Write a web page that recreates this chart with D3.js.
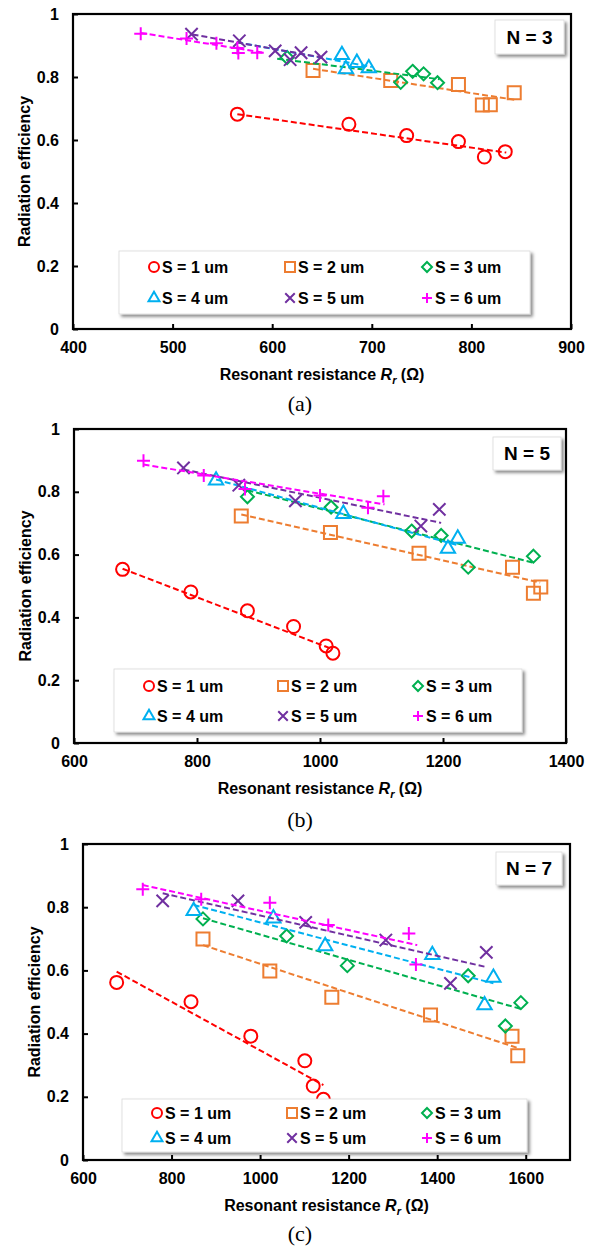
<!DOCTYPE html>
<html>
<head>
<meta charset="utf-8">
<script src="https://cdn.jsdelivr.net/npm/d3@7"></script>
<style>
  body { margin: 0; background: #fff; }
  text { font-family: "Liberation Sans", Arial, sans-serif; font-weight: bold; fill: #000; }
</style>
</head>
<body>
<svg id="chart" width="595" height="1247"></svg>
<script>
// series
var seriesLabels = ['S = 1 um', 'S = 2 um', 'S = 3 um', 'S = 4 um', 'S = 5 um', 'S = 6 um'];
var seriesColors = ['#FF0000', '#ED7D31', '#00B050', '#00B0F0', '#7030A0', '#FF00FF'];
var seriesShapes = ['circle', 'square', 'diamond', 'triangle', 'x', 'plus'];
var yTicks = [0, 0.2, 0.4, 0.6, 0.8, 1];

// N = 3  [Rr, efficiency]
var n3Data = [
  [[565, 0.682], [677, 0.650], [735, 0.614], [787, 0.595], [813, 0.546], [834, 0.563]],
  [[641, 0.821], [719, 0.789], [787, 0.776], [811, 0.711], [819, 0.712], [843, 0.750]],
  [[615, 0.862], [729, 0.783], [741, 0.818], [752, 0.810], [766, 0.782]],
  [[670, 0.870], [674, 0.825], [685, 0.845], [697, 0.828]],
  [[519, 0.936], [567, 0.915], [603, 0.883], [618, 0.855], [629, 0.877], [649, 0.863]],
  [[468, 0.937], [514, 0.922], [544, 0.907], [565, 0.892], [566, 0.876], [585, 0.877]]
];
// linear fit ends [x0, y0, x1, y1]
var n3Fits = [
  [565, 0.682, 835, 0.560],
  [641, 0.826, 843, 0.728],
  [605, 0.858, 768, 0.793],
  [565, 0.910, 700, 0.832],
  [520, 0.935, 650, 0.862],
  [468, 0.940, 590, 0.878]
];
var n3Ticks = [400, 500, 600, 700, 800, 900];

// N = 5
var n5Data = [
  [[679, 0.553], [790, 0.481], [882, 0.421], [957, 0.371], [1010, 0.309], [1021, 0.286]],
  [[872, 0.723], [1017, 0.670], [1161, 0.604], [1313, 0.560], [1347, 0.477], [1359, 0.497]],
  [[882, 0.784], [1018, 0.751], [1149, 0.675], [1197, 0.661], [1241, 0.560], [1347, 0.595]],
  [[831, 0.836], [1038, 0.730], [1208, 0.619], [1224, 0.651]],
  [[778, 0.876], [868, 0.821], [960, 0.771], [1164, 0.691], [1194, 0.744]],
  [[713, 0.899], [811, 0.852], [878, 0.809], [1000, 0.788], [1078, 0.749], [1103, 0.786]]
];
var n5Fits = [
  [679, 0.555, 1020, 0.299],
  [872, 0.728, 1358, 0.511],
  [882, 0.805, 1347, 0.574],
  [831, 0.839, 1224, 0.630],
  [778, 0.871, 1197, 0.701],
  [713, 0.887, 1105, 0.760]
];
var n5Ticks = [600, 800, 1000, 1200, 1400];

// N = 7
var n7Data = [
  [[676, 0.562], [844, 0.501], [979, 0.392], [1101, 0.314], [1120, 0.234], [1143, 0.192]],
  [[871, 0.699], [1022, 0.598], [1162, 0.515], [1385, 0.459], [1569, 0.392], [1582, 0.330]],
  [[871, 0.763], [1060, 0.709], [1197, 0.615], [1470, 0.583], [1554, 0.424], [1589, 0.498]],
  [[850, 0.788], [1030, 0.765], [1147, 0.677], [1389, 0.649], [1507, 0.490], [1527, 0.577]],
  [[780, 0.820], [950, 0.820], [1103, 0.752], [1284, 0.696], [1430, 0.559], [1511, 0.657]],
  [[735, 0.857], [867, 0.825], [1022, 0.814], [1154, 0.744], [1336, 0.717], [1352, 0.619]]
];
var n7Fits = [
  [676, 0.596, 1143, 0.237],
  [871, 0.680, 1585, 0.353],
  [871, 0.765, 1589, 0.478],
  [850, 0.807, 1527, 0.559],
  [780, 0.844, 1513, 0.610],
  [735, 0.870, 1355, 0.680]
];
var n7Ticks = [600, 800, 1000, 1200, 1400, 1600];

var panels = [
  {tag: 'N = 3', caption: '(a)', data: n3Data, fits: n3Fits, domain: [400, 900], ticks: n3Ticks,
   frame: [73, 571, 14, 329], legend: [119, 530, 251, 314], rows: [267, 298], cols: [154, 290, 427],
   tagBox: [495, 564, 20, 54], capY: 411},
  {tag: 'N = 5', caption: '(b)', data: n5Data, fits: n5Fits, domain: [600, 1400], ticks: n5Ticks,
   frame: [74, 566, 429, 743], legend: [114, 522, 669, 732], rows: [686, 716], cols: [149, 283, 418],
   tagBox: [493, 561, 437, 470], capY: 827},
  {tag: 'N = 7', caption: '(c)', data: n7Data, fits: n7Fits, domain: [600, 1700], ticks: n7Ticks,
   frame: [83, 570, 844, 1160], legend: [122, 527, 1099, 1152], rows: [1113, 1138], cols: [157, 292, 427],
   tagBox: [496, 562, 852, 885], capY: 1241}
];

function shapePath(shape, s) {
  var h;
  if (shape == 'circle') {
    var p = d3.path();
    p.arc(0, 0, s, 0, 2 * Math.PI);
    return p.toString();
  } else if (shape == 'square') {
    return 'M' + (-s) + ',' + (-s) + 'h' + 2 * s + 'v' + 2 * s + 'h' + (-2 * s) + 'Z';
  } else if (shape == 'diamond') {
    return 'M0,' + (-s) + 'L' + s + ',0L0,' + s + 'L' + (-s) + ',0Z';
  } else if (shape == 'triangle') {
    h = s * 1.9;
    return 'M0,' + (-h * 2 / 3) + 'L' + (s * 1.1) + ',' + (h / 3) + 'L' + (-s * 1.1) + ',' + (h / 3) + 'Z';
  } else if (shape == 'x') {
    h = s * 0.95;
    return 'M' + (-h) + ',' + (-h) + 'L' + h + ',' + h + 'M' + h + ',' + (-h) + 'L' + (-h) + ',' + h;
  } else {
    return 'M' + (-s) + ',0H' + s + 'M0,' + (-s) + 'V' + s;
  }
}

var svg = d3.select('#chart');

var defs = svg.append('defs');
var shadow = defs.append('filter').attr('id', 'shadow')
  .attr('x', '-5%').attr('y', '-10%').attr('width', '115%').attr('height', '130%');
shadow.append('feDropShadow')
  .attr('dx', 2.5).attr('dy', 2.5).attr('stdDeviation', 1.8)
  .attr('flood-color', '#000').attr('flood-opacity', 0.45);

panels.forEach(function(pn) {
  var f = pn.frame;
  var x = d3.scaleLinear().domain(pn.domain).range([f[0], f[1]]);
  var y = d3.scaleLinear().domain([0, 1]).range([f[3], f[2]]);
  var g = svg.append('g');

  // axes with inward ticks
  g.append('g')
    .attr('transform', 'translate(0,' + f[3] + ')')
    .call(d3.axisBottom(x).tickValues(pn.ticks).tickSize(-5).tickPadding(13).tickFormat(d3.format('d')))
    .call(function(a) {
      a.select('.domain').remove();
      a.selectAll('line').attr('stroke', '#000').attr('stroke-width', 2);
      a.selectAll('text').style('font-size', '16px');
    });

  g.append('g')
    .attr('transform', 'translate(' + f[0] + ',0)')
    .call(d3.axisLeft(y).tickValues(yTicks).tickSize(-5).tickPadding(14).tickFormat(function(d) { return d3.format('')(d); }))
    .call(function(a) {
      a.select('.domain').remove();
      a.selectAll('line').attr('stroke', '#000').attr('stroke-width', 2);
      a.selectAll('text').style('font-size', '16px');
    });

  // fit lines and markers
  pn.data.forEach(function(pts, i) {
    var ft = pn.fits[i];
    g.append('line')
      .attr('x1', x(ft[0])).attr('y1', y(ft[1]))
      .attr('x2', x(ft[2])).attr('y2', y(ft[3]))
      .attr('stroke', seriesColors[i])
      .attr('stroke-width', 2)
      .attr('stroke-dasharray', '6,3');

    g.selectAll('.m' + i)
      .data(pts)
      .enter()
      .append('path')
      .attr('class', 'm' + i)
      .attr('transform', function(d) { return 'translate(' + [x(d[0]), y(d[1])] + ')'; })
      .attr('d', shapePath(seriesShapes[i], 6.5))
      .attr('fill', 'none')
      .attr('stroke', seriesColors[i])
      .attr('stroke-width', 2);
  });

  // frame
  g.append('rect')
    .attr('x', f[0]).attr('y', f[2])
    .attr('width', f[1] - f[0]).attr('height', f[3] - f[2])
    .attr('fill', 'none').attr('stroke', '#000').attr('stroke-width', 2.2);

  // legend
  var L = pn.legend;
  g.append('rect')
    .attr('x', L[0]).attr('y', L[2])
    .attr('width', L[1] - L[0]).attr('height', L[3] - L[2])
    .attr('fill', '#fff').attr('stroke', '#d9d9d9').attr('stroke-width', 0.8)
    .attr('filter', 'url(#shadow)');

  var items = g.selectAll('.leg')
    .data(seriesLabels)
    .enter()
    .append('g')
    .attr('transform', function(d, i) { return 'translate(' + [pn.cols[i % 3], pn.rows[Math.floor(i / 3)]] + ')'; });

  items.append('path')
    .attr('d', function(d, i) { return shapePath(seriesShapes[i], 5); })
    .attr('fill', 'none')
    .attr('stroke', function(d, i) { return seriesColors[i]; })
    .attr('stroke-width', 2);

  items.append('text')
    .attr('x', 8)
    .attr('dy', '0.36em')
    .style('font-size', '16px')
    .text(function(d) { return d; });

  // N label box
  var T = pn.tagBox;
  g.append('rect')
    .attr('x', T[0]).attr('y', T[2])
    .attr('width', T[1] - T[0]).attr('height', T[3] - T[2])
    .attr('fill', '#fff').attr('stroke', '#d9d9d9').attr('stroke-width', 0.8)
    .attr('filter', 'url(#shadow)');
  g.append('text')
    .attr('x', (T[0] + T[1]) / 2).attr('y', (T[2] + T[3]) / 2)
    .attr('dy', '0.36em')
    .attr('text-anchor', 'middle')
    .style('font-size', '19px')
    .text(pn.tag);

  // axis titles
  g.append('text')
    .attr('transform', 'translate(' + (f[0] - 49) + ',' + (f[2] + f[3]) / 2 + ') rotate(-90)')
    .attr('text-anchor', 'middle')
    .attr('dy', '0.36em')
    .style('font-size', '16px')
    .text('Radiation efficiency');

  var xt = g.append('text')
    .attr('x', (f[0] + f[1]) / 2)
    .attr('y', f[3] + 51)
    .attr('text-anchor', 'middle')
    .style('font-size', '16px');
  xt.append('tspan').text('Resonant resistance ');
  xt.append('tspan').style('font-style', 'italic').text('R');
  xt.append('tspan').style('font-style', 'italic').style('font-size', '11px').attr('dy', 4).text('r');
  xt.append('tspan').attr('dy', -4).text(' (Ω)');

  g.append('text')
    .attr('x', 300)
    .attr('y', pn.capY)
    .attr('text-anchor', 'middle')
    .style('font-family', '"Liberation Serif", "Times New Roman", serif')
    .style('font-weight', 'normal')
    .style('font-size', '22px')
    .text(pn.caption);
});
</script>
</body>
</html>
